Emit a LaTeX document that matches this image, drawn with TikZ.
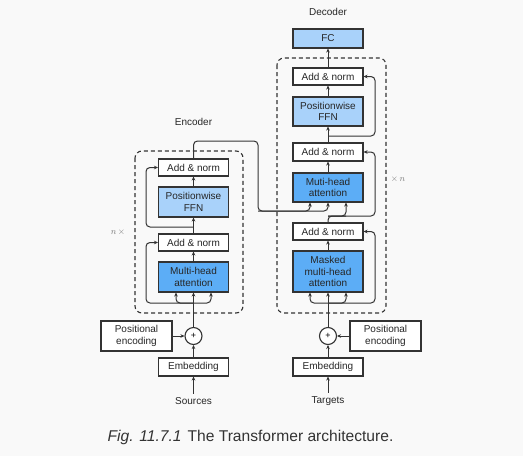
\documentclass[tikz,border=0pt]{standalone}
\usepackage{fontspec}
\setmainfont{Liberation Sans}
\usetikzlibrary{arrows.meta,calc}
\definecolor{bg}{HTML}{F9F9F9}
\definecolor{ink}{HTML}{333333}
\definecolor{lightblue}{HTML}{A9D2FA}
\definecolor{midblue}{HTML}{5CADF6}
\definecolor{note}{HTML}{7A7A7A}
\begin{document}
\begin{tikzpicture}[x=1pt,y=-1pt,
  font=\fontsize{10}{11.5}\selectfont,
  wire/.style={draw=ink,line width=1pt},
  arr/.style={wire,-{Stealth[length=4pt,width=3.6pt]}},
  loop/.style={arr,rounded corners=4pt},
  blk/.style={draw=ink,line width=1.1pt,fill=white,text=black!85,align=center,
    minimum width=70pt,inner sep=0pt},
  plain/.style={blk,minimum height=17pt},
  ffn/.style={blk,fill=lightblue,minimum height=30pt},
  att/.style={blk,fill=midblue,minimum height=30pt},
  sum/.style={circle,draw=ink,line width=1.1pt,fill=white,minimum size=17pt,inner sep=0pt,
    font=\fontsize{9}{10}\selectfont},
  frame/.style={draw=ink,line width=1.1pt,dash pattern=on 4pt off 3pt,rounded corners=7pt},
  lbl/.style={text=black!85},
  rep/.style={text=note,font=\fontsize{9}{10}\selectfont}]
\useasboundingbox[fill=bg] (0,0) rectangle (523,456);

% ---------- encoder ----------
\node[lbl] (enctitle) at (193.5,122) {Encoder};
\draw[frame] (135,151) rectangle (243,313);
\node[plain] (ean2) at (193.5,167.5) {Add \& norm};
\node[ffn]   (effn) at (193.5,202) {Positionwise\\FFN};
\node[plain] (ean1) at (193.5,242.5) {Add \& norm};
\node[att]   (emha) at (193.5,277) {Multi-head\\attention};
\node[rep] (encrep) at (118,232) {$n\,\times$};

\node[sum] (eadd) at (193.5,336) {+};
\node[blk,minimum height=30pt,minimum width=71pt] (epos) at (136.5,336) {Positional\\encoding};
\node[plain,minimum height=18pt] (eemb) at (193.5,367) {Embedding};
\node[lbl] (src) at (193.5,401) {Sources};

\coordinate (ein) at (193.5,303);
\coordinate (emid) at (193.5,227);
\draw[arr] (src.north) -- (eemb.south);
\draw[arr] (eemb.north) -- (eadd.south);
\draw[arr] (epos.east) -- (eadd.west);
\draw[wire] (eadd.north) -- (ein);
\draw[arr] (ein) -- (emha.south);
\draw[loop] (ein) -| ($(emha.south)+(-17.5,0)$);
\draw[loop] (ein) -| ($(emha.south)+(17.5,0)$);
\draw[loop] (ein) -| (146,242.5) -- (ean1.west);
\draw[arr] (emha.north) -- (ean1.south);
\draw[arr] (ean1.north) -- (effn.south);
\draw[loop] (emid) -| (146,167.5) -- (ean2.west);
\draw[arr] (effn.north) -- (ean2.south);

% ---------- decoder ----------
\node[lbl] (dectitle) at (328,12) {Decoder};
\node[blk,fill=lightblue,minimum height=19pt] (fc) at (328,38.5) {FC};
\draw[frame] (277,58) rectangle (386,313);
\node[plain] (dan3) at (328,76.5) {Add \& norm};
\node[ffn,minimum height=29pt] (dffn) at (328,111.5) {Positionwise\\FFN};
\node[plain,minimum height=18pt] (dan2) at (328,152) {Add \& norm};
\node[att,minimum height=29pt] (dmha) at (328,187.5) {Muti-head\\attention};
\node[plain] (dan1) at (328,231.5) {Add \& norm};
\node[att,minimum height=41pt] (dmmha) at (328,271.5) {Masked\\multi-head\\attention};
\node[rep] (decrep) at (398,179) {$\times\,n$};

\node[sum] (dadd) at (328,336) {+};
\node[blk,minimum height=30pt,minimum width=71pt] (dpos) at (385.5,336) {Positional\\encoding};
\node[plain,minimum height=18pt] (demb) at (328,367) {Embedding};
\node[lbl] (tgt) at (328,401) {Targets};

\coordinate (din) at (328,303);
\coordinate (dq) at (328,216);
\coordinate (dmid) at (328,136);
\draw[arr] (tgt.north) -- (demb.south);
\draw[arr] (demb.north) -- (dadd.south);
\draw[arr] (dpos.west) -- (dadd.east);
\draw[wire] (dadd.north) -- (din);
\draw[arr] (din) -- (dmmha.south);
\draw[loop] (din) -| ($(dmmha.south)+(-18,0)$);
\draw[loop] (din) -| ($(dmmha.south)+(18,0)$);
\draw[loop] (din) -| (375,231.5) -- (dan1.east);
\draw[arr] (dmmha.north) -- (dan1.south);
\draw[wire,rounded corners=4pt] (dan1.north) -- (dq) -- (346,216);
\draw[loop] (dq) -| ($(dmha.south)+(18,0)$);
\draw[loop] (dq) -| (375,152) -- (dan2.east);
\draw[arr] (dmha.north) -- (dan2.south);
\draw[arr] (dan2.north) -- (dffn.south);
\draw[loop] (dmid) -| (375,76.5) -- (dan3.east);
\draw[arr] (dffn.north) -- (dan3.south);
\draw[arr] (dan3.north) -- (fc.south);

% encoder output feeding the decoder attention
\coordinate (eout) at (258,211);
\draw[loop] (ean2.north) |- (258,141) -- (eout) -| ($(dmha.south)+(-18,0)$);
\draw[loop] (eout) -| (dmha.south);

% ---------- caption ----------
\node[text=ink,font=\fontsize{15.6}{18}\selectfont] (caption) at (250.5,437)
  {\textit{Fig. 11.7.1}\hspace{6pt}The Transformer architecture.};
\end{tikzpicture}
\end{document}
